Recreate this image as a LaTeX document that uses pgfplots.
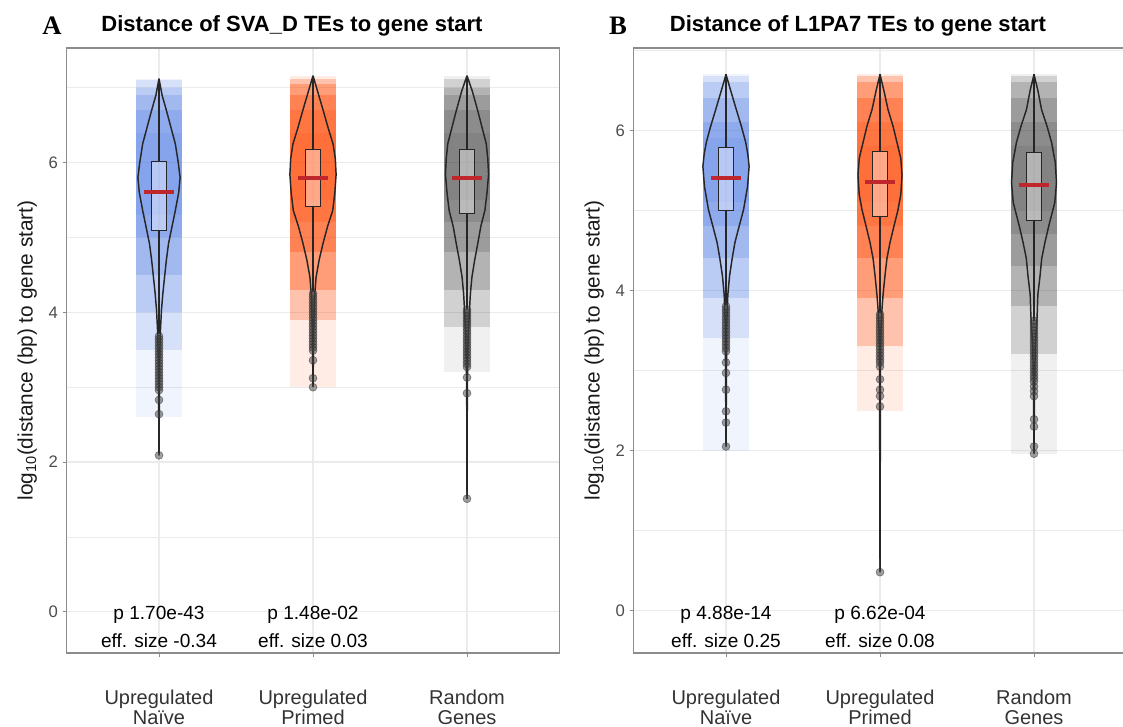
\documentclass[border=0pt]{standalone}
\usepackage{fontspec}
\setmainfont{Liberation Sans}
\newfontfamily\serifbf{Liberation Serif}
\usepackage{pgfplots}
\pgfplotsset{compat=1.18}
\usepackage{pgfplotstable}

\definecolor{naive}{HTML}{3F6FE0}
\definecolor{primed}{HTML}{FF4500}
\definecolor{randg}{HTML}{404040}
\definecolor{gridc}{HTML}{EBEBEB}
\definecolor{medc}{HTML}{C0272D}
\definecolor{vc}{HTML}{262626}

% violin half-widths (x units) along y
\pgfplotstableread[row sep=\\]{y w\\ 7.12 0\\ 6.9 0.02\\ 6.69 0.049\\ 6.45 0.08\\ 6.25 0.106\\ 6.0 0.125\\ 5.8 0.137\\ 5.6 0.128\\ 5.36 0.106\\ 5.1 0.08\\ 4.92 0.062\\ 4.7 0.048\\ 4.47 0.036\\ 4.25 0.025\\ 4.03 0.016\\ 3.7 0.008\\ 3.3 0.004\\ 2.09 0\\}\vAn
\pgfplotstableread[row sep=\\]{y w\\ 7.16 0\\ 6.95 0.03\\ 6.69 0.067\\ 6.45 0.1\\ 6.25 0.13\\ 6.05 0.145\\ 5.84 0.15\\ 5.6 0.142\\ 5.36 0.128\\ 5.15 0.095\\ 4.92 0.065\\ 4.7 0.04\\ 4.47 0.02\\ 4.2 0.01\\ 3.8 0.005\\ 3.0 0\\}\vAp
\pgfplotstableread[row sep=\\]{y w\\ 7.16 0\\ 6.95 0.035\\ 6.69 0.07\\ 6.45 0.1\\ 6.25 0.125\\ 6.05 0.135\\ 5.84 0.14\\ 5.6 0.13\\ 5.36 0.116\\ 5.15 0.09\\ 4.92 0.07\\ 4.7 0.05\\ 4.47 0.032\\ 4.25 0.022\\ 4.03 0.016\\ 3.7 0.008\\ 3.3 0.004\\ 2.9 0.002\\ 1.51 0\\}\vAr
\pgfplotstableread[row sep=\\]{y w\\ 6.7 0\\ 6.5 0.03\\ 6.26 0.067\\ 6.05 0.1\\ 5.85 0.128\\ 5.7 0.142\\ 5.55 0.15\\ 5.3 0.14\\ 5.01 0.114\\ 4.8 0.085\\ 4.6 0.058\\ 4.4 0.04\\ 4.18 0.023\\ 3.95 0.012\\ 3.6 0.005\\ 2.05 0\\}\vBn
\pgfplotstableread[row sep=\\]{y w\\ 6.7 0\\ 6.5 0.025\\ 6.26 0.052\\ 6.05 0.085\\ 5.85 0.11\\ 5.65 0.135\\ 5.44 0.143\\ 5.2 0.135\\ 5.01 0.117\\ 4.8 0.09\\ 4.6 0.065\\ 4.4 0.045\\ 4.18 0.032\\ 3.95 0.02\\ 3.77 0.013\\ 3.5 0.006\\ 3.0 0.003\\ 0.48 0\\}\vBp
\pgfplotstableread[row sep=\\]{y w\\ 6.7 0\\ 6.5 0.025\\ 6.26 0.049\\ 6.05 0.085\\ 5.85 0.114\\ 5.6 0.138\\ 5.35 0.146\\ 5.1 0.135\\ 5.01 0.123\\ 4.8 0.095\\ 4.6 0.071\\ 4.4 0.05\\ 4.18 0.039\\ 3.95 0.025\\ 3.67 0.02\\ 3.3 0.008\\ 2.7 0.003\\ 1.96 0\\}\vBr

\newcommand{\violin}[2]{%
  \addplot[vc, line width=1.1pt] table[x expr={#1+\thisrow{w}}, y=y] {#2};
  \addplot[vc, line width=1.1pt] table[x expr={#1-\thisrow{w}}, y=y] {#2};}
% cloud band: xlo xhi ylo yhi opacity colour
\newcommand{\cloud}[6]{%
  \addplot[fill=#6, fill opacity=#5, draw=none] coordinates {(#1,#3) (#2,#3) (#2,#4) (#1,#4)} --cycle;}
% box: xlo xhi c q1 q3 lowwhisker max
\newcommand{\boxw}[7]{%
  \addplot[vc, line width=0.8pt] coordinates {(#3,#6) (#3,#4)};
  \addplot[vc, line width=0.8pt] coordinates {(#3,#5) (#3,#7)};
  \addplot[draw=vc, line width=0.8pt, fill=white, fill opacity=0.4] coordinates {(#1,#4) (#2,#4) (#2,#5) (#1,#5)} --cycle;}
\newcommand{\med}[3]{%
  \addplot[medc, line width=3pt] coordinates {(#1,#3) (#2,#3)};}

\tikzset{anot/.style={font=\fontsize{14.3}{15}\selectfont}}
\pgfplotsset{
  outl/.style={only marks, mark=*, mark size=3pt,
    mark options={fill=black!75, draw=black!85, fill opacity=0.5, draw opacity=0.55}},
  panel/.style={
    scale only axis, width=369.6pt, height=453.75pt,
    xmin=0.4, xmax=3.6, xtick={1,2,3},
    xticklabels={Upregulated\\Naïve, Upregulated\\Primed, Random\\Genes},
    ytick={0,2,4,6}, minor ytick={1,3,5,7},
    grid=both, major grid style={gridc, line width=0.9pt},
    minor grid style={gridc, line width=0.45pt},
    axis line style={black!45, line width=0.8pt},
    tick align=outside, tick pos=left, major tick length=3pt, minor tick length=0pt,
    tick style={black!45, line width=0.7pt},
    /pgf/number format/assume math mode=true,
    yticklabel style={font=\fontsize{12.5}{13}\selectfont, text=black!70},
    xticklabel style={font=\fontsize{15}{15}\selectfont, align=center, text=black!80, yshift=-21pt},
    ylabel={log\textsubscript{10}(distance (bp) to gene start)},
    every axis y label/.style={at={(rel axis cs:0,0.5)}, rotate=90, anchor=center, yshift=29.5pt,
      font=\fontsize{15.6}{16}\selectfont, text=black!90},
  }
}

\begin{document}
\begin{tikzpicture}[x=0.75pt, y=0.75pt]
% ---------------- Panel A ----------------
\begin{axis}[panel, anchor=south west, at={(49.95pt,55.5pt)}, ymin=-0.55, ymax=7.53]
\cloud{0.85}{1.15}{2.6}{7.12}{0.08}{naive}
\cloud{0.85}{1.15}{3.5}{7.10}{0.15}{naive}
\cloud{0.85}{1.15}{4.0}{7.00}{0.18}{naive}
\cloud{0.85}{1.15}{4.5}{6.90}{0.20}{naive}
\cloud{0.85}{1.15}{5.0}{6.70}{0.18}{naive}
\cloud{0.85}{1.15}{5.3}{6.40}{0.12}{naive}
\cloud{1.85}{2.15}{3.0}{7.16}{0.10}{primed}
\cloud{1.85}{2.15}{3.9}{7.12}{0.25}{primed}
\cloud{1.85}{2.15}{4.3}{7.05}{0.30}{primed}
\cloud{1.85}{2.15}{4.8}{6.90}{0.30}{primed}
\cloud{1.85}{2.15}{5.2}{6.70}{0.20}{primed}
\cloud{1.85}{2.15}{5.5}{6.40}{0.15}{primed}
\cloud{2.85}{3.15}{3.2}{7.16}{0.08}{randg}
\cloud{2.85}{3.15}{3.8}{7.12}{0.18}{randg}
\cloud{2.85}{3.15}{4.3}{7.00}{0.20}{randg}
\cloud{2.85}{3.15}{4.8}{6.90}{0.20}{randg}
\cloud{2.85}{3.15}{5.2}{6.70}{0.18}{randg}
\cloud{2.85}{3.15}{5.5}{6.40}{0.12}{randg}
\violin{1}{\vAn}
\violin{2}{\vAp}
\violin{3}{\vAr}
\boxw{0.95}{1.05}{1}{5.09}{6.01}{3.71}{7.12}
\boxw{1.95}{2.05}{2}{5.41}{6.17}{4.27}{7.16}
\boxw{2.95}{3.05}{3}{5.32}{6.17}{4.05}{7.16}
\addplot[outl] coordinates {(1,3.68) (1,3.64) (1,3.60) (1,3.56) (1,3.52) (1,3.48) (1,3.44) (1,3.40) (1,3.36) (1,3.32) (1,3.28) (1,3.24) (1,3.20) (1,3.16) (1,3.12) (1,3.08) (1,3.04) (1,3.00) (1,2.96) (1,2.83) (1,2.64) (1,2.09)};
\addplot[outl] coordinates {(2,4.25) (2,4.21) (2,4.17) (2,4.13) (2,4.09) (2,4.05) (2,4.01) (2,3.97) (2,3.93) (2,3.89) (2,3.85) (2,3.81) (2,3.77) (2,3.73) (2,3.69) (2,3.65) (2,3.61) (2,3.57) (2,3.53) (2,3.49) (2,3.36) (2,3.12) (2,3.00)};
\addplot[outl] coordinates {(3,4.03) (3,3.99) (3,3.95) (3,3.91) (3,3.87) (3,3.83) (3,3.79) (3,3.75) (3,3.71) (3,3.67) (3,3.63) (3,3.59) (3,3.55) (3,3.51) (3,3.47) (3,3.43) (3,3.39) (3,3.35) (3,3.31) (3,3.27) (3,3.13) (3,2.92) (3,1.51)};
\med{0.9}{1.1}{5.61}
\med{1.9}{2.1}{5.80}
\med{2.9}{3.1}{5.79}
\node[anot] at (axis cs:1,-0.04) {p 1.70e-43};
\node[anot] at (axis cs:1,-0.39) {eff. size -0.34};
\node[anot] at (axis cs:2,-0.04) {p 1.48e-02};
\node[anot] at (axis cs:2,-0.39) {eff. size 0.03};
\end{axis}
% ---------------- Panel B ----------------
\begin{axis}[panel, anchor=south west, at={(475.2pt,55.5pt)}, ymin=-0.53, ymax=7.03]
\cloud{0.85}{1.15}{2.0}{6.70}{0.08}{naive}
\cloud{0.85}{1.15}{3.4}{6.68}{0.15}{naive}
\cloud{0.85}{1.15}{3.9}{6.60}{0.18}{naive}
\cloud{0.85}{1.15}{4.4}{6.40}{0.20}{naive}
\cloud{0.85}{1.15}{4.8}{6.10}{0.18}{naive}
\cloud{0.85}{1.15}{5.1}{5.90}{0.12}{naive}
\cloud{1.85}{2.15}{2.5}{6.70}{0.10}{primed}
\cloud{1.85}{2.15}{3.3}{6.68}{0.25}{primed}
\cloud{1.85}{2.15}{3.9}{6.60}{0.30}{primed}
\cloud{1.85}{2.15}{4.4}{6.40}{0.30}{primed}
\cloud{1.85}{2.15}{4.8}{6.10}{0.20}{primed}
\cloud{1.85}{2.15}{5.1}{5.80}{0.15}{primed}
\cloud{2.85}{3.15}{1.96}{6.70}{0.08}{randg}
\cloud{2.85}{3.15}{3.2}{6.68}{0.18}{randg}
\cloud{2.85}{3.15}{3.8}{6.60}{0.20}{randg}
\cloud{2.85}{3.15}{4.3}{6.40}{0.20}{randg}
\cloud{2.85}{3.15}{4.7}{6.10}{0.18}{randg}
\cloud{2.85}{3.15}{5.0}{5.80}{0.12}{randg}
\violin{1}{\vBn}
\violin{2}{\vBp}
\violin{3}{\vBr}
\boxw{0.95}{1.05}{1}{5.00}{5.79}{3.82}{6.7}
\boxw{1.95}{2.05}{2}{4.93}{5.74}{3.72}{6.7}
\boxw{2.95}{3.05}{3}{4.88}{5.72}{3.62}{6.7}
\addplot[outl] coordinates {(1,3.80) (1,3.76) (1,3.72) (1,3.68) (1,3.64) (1,3.60) (1,3.56) (1,3.52) (1,3.48) (1,3.44) (1,3.40) (1,3.36) (1,3.32) (1,3.28) (1,3.24) (1,3.10) (1,2.97) (1,2.76) (1,2.49) (1,2.35) (1,2.05)};
\addplot[outl] coordinates {(2,3.70) (2,3.66) (2,3.62) (2,3.58) (2,3.54) (2,3.50) (2,3.46) (2,3.42) (2,3.38) (2,3.34) (2,3.30) (2,3.26) (2,3.22) (2,3.18) (2,3.14) (2,3.10) (2,3.05) (2,2.89) (2,2.76) (2,2.68) (2,2.55) (2,0.48)};
\addplot[outl] coordinates {(3,3.62) (3,3.58) (3,3.54) (3,3.50) (3,3.46) (3,3.42) (3,3.38) (3,3.34) (3,3.30) (3,3.26) (3,3.22) (3,3.18) (3,3.14) (3,3.10) (3,3.06) (3,3.02) (3,2.98) (3,2.94) (3,2.90) (3,2.86) (3,2.80) (3,2.74) (3,2.68) (3,2.39) (3,2.30) (3,2.05) (3,1.96)};
\med{0.9}{1.1}{5.41}
\med{1.9}{2.1}{5.35}
\med{2.9}{3.1}{5.32}
\node[anot] at (axis cs:1,-0.05) {p 4.88e-14};
\node[anot] at (axis cs:1,-0.375) {eff. size 0.25};
\node[anot] at (axis cs:2,-0.05) {p 6.62e-04};
\node[anot] at (axis cs:2,-0.375) {eff. size 0.08};
\end{axis}
% titles and panel letters
\node[anchor=base, font=\bfseries\fontsize{16.5}{18}\selectfont] at (292,695.5) {Distance of SVA\_D TEs to gene start};
\node[anchor=base, font=\serifbf\bfseries\fontsize{20}{22}\selectfont] at (52,692) {A};
\node[anchor=base, font=\bfseries\fontsize{16.5}{18}\selectfont] at (858,695.5) {Distance of L1PA7 TEs to gene start};
\node[anchor=base, font=\serifbf\bfseries\fontsize{20}{22}\selectfont] at (618,692) {B};
\pgfresetboundingbox
\useasboundingbox (0,0) rectangle (1123,727);
\end{tikzpicture}
\end{document}
